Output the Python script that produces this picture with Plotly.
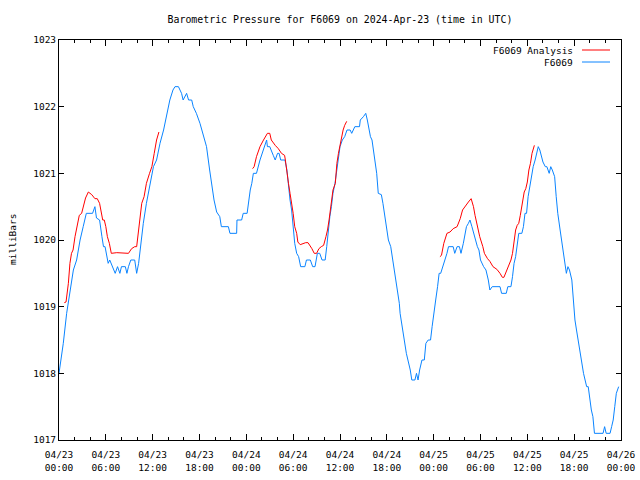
import plotly.graph_objects as go
import pandas as pd

START = "2024-04-23 00:00"

# Observed station pressure (hours since 2024-04-23 00:00 UTC, mb)
obs_hours = [0.0,0.55,0.98,1.4,1.84,2.26,2.7,3.1,3.5,4.3,4.6,4.8,5.2,5.5,5.7,5.9,6.3,6.5,6.96,7.2,7.5,7.8,8.0,8.5,8.7,8.9,9.2,9.7,9.95,10.2,10.4,10.8,11.2,11.66,12.1,12.5,12.94,13.4,13.8,14.2,14.6,14.86,15.3,15.7,15.9,16.1,16.35,16.6,17.0,17.2,17.6,18.06,18.5,18.9,19.3,19.56,19.86,20.2,20.6,20.8,21.7,21.9,22.76,22.8,23.4,23.6,24.1,24.5,24.7,24.9,25.3,25.75,26.2,26.6,26.7,27.0,27.45,27.7,28.0,28.2,28.4,28.95,29.2,29.4,29.6,29.8,30.0,30.2,30.45,30.7,30.96,31.5,31.7,32.2,32.5,32.8,33.1,33.4,33.7,34.1,34.3,34.5,34.7,34.9,35.1,35.36,35.6,35.8,36.0,36.3,36.6,36.9,37.3,37.5,37.7,37.9,38.5,38.6,39.0,39.3,39.5,39.7,39.9,40.1,40.3,40.5,40.7,40.9,41.3,41.5,41.76,42.0,42.2,42.5,42.7,42.9,43.1,43.3,43.6,43.7,43.9,44.1,44.3,44.5,44.7,45.0,45.2,45.6,45.8,46.0,46.2,46.5,46.8,47.0,47.3,47.6,47.8,48.0,48.26,48.5,48.7,48.9,49.2,49.45,49.7,49.9,50.5,50.7,51.0,51.3,51.5,51.8,52.0,52.2,52.45,52.65,52.9,53.1,53.3,53.6,53.8,54.0,54.4,54.7,55.0,55.2,55.5,56.5,56.7,57.3,57.5,57.9,58.1,58.3,58.5,58.7,58.9,59.3,59.5,59.7,59.9,60.1,60.3,60.5,60.75,61.0,61.2,61.4,61.6,61.8,62.0,62.3,62.5,62.8,63.0,63.2,63.5,63.7,63.9,64.2,64.4,64.6,64.8,65.0,65.2,65.4,65.7,65.9,66.1,66.3,66.5,66.7,67.0,67.2,67.4,67.6,67.8,68.0,68.2,68.4,68.6,69.7,69.9,70.1,70.6,70.8,71.0,71.2,71.4,71.7]
obs_mb = [1018.0,1018.45,1018.9,1019.25,1019.55,1019.7,1020.0,1020.2,1020.4,1020.4,1020.5,1020.33,1020.3,1020.05,1019.9,1019.9,1019.65,1019.7,1019.55,1019.5,1019.6,1019.5,1019.6,1019.6,1019.5,1019.6,1019.7,1019.7,1019.5,1019.65,1019.85,1020.25,1020.55,1020.85,1021.1,1021.2,1021.45,1021.65,1021.9,1022.1,1022.25,1022.3,1022.3,1022.2,1022.1,1022.15,1022.2,1022.1,1022.1,1022.0,1021.9,1021.75,1021.55,1021.4,1021.05,1020.8,1020.6,1020.42,1020.35,1020.2,1020.2,1020.1,1020.1,1020.3,1020.3,1020.4,1020.4,1020.75,1020.85,1021.0,1021.0,1021.2,1021.35,1021.5,1021.4,1021.4,1021.27,1021.2,1021.3,1021.3,1021.2,1021.2,1021.05,1020.8,1020.6,1020.45,1020.2,1019.95,1019.8,1019.75,1019.6,1019.6,1019.7,1019.7,1019.6,1019.6,1019.8,1019.8,1019.7,1019.7,1019.9,1020.15,1020.35,1020.5,1020.7,1020.85,1021.05,1021.25,1021.4,1021.5,1021.55,1021.65,1021.65,1021.6,1021.65,1021.7,1021.7,1021.8,1021.85,1021.9,1021.8,1021.65,1021.55,1021.5,1021.35,1021.15,1021.0,1020.7,1020.68,1020.55,1020.35,1020.15,1020.0,1019.9,1019.75,1019.6,1019.45,1019.25,1019.05,1018.9,1018.75,1018.6,1018.4,1018.3,1018.2,1018.05,1017.9,1017.9,1018.0,1017.9,1018.05,1018.2,1018.2,1018.45,1018.5,1018.5,1018.7,1018.9,1019.1,1019.3,1019.5,1019.5,1019.6,1019.7,1019.8,1019.9,1019.9,1019.8,1019.9,1019.9,1019.8,1019.95,1020.1,1020.2,1020.25,1020.3,1020.2,1020.1,1020.0,1019.9,1019.85,1019.7,1019.6,1019.55,1019.4,1019.25,1019.3,1019.3,1019.2,1019.2,1019.3,1019.3,1019.45,1019.65,1019.75,1019.95,1020.1,1020.1,1020.2,1020.4,1020.4,1020.65,1020.8,1020.95,1021.1,1021.2,1021.3,1021.4,1021.35,1021.25,1021.17,1021.1,1021.1,1021.0,1021.1,1021.05,1020.95,1020.65,1020.4,1020.15,1020.0,1019.85,1019.7,1019.5,1019.6,1019.55,1019.4,1019.05,1018.8,1018.65,1018.5,1018.35,1018.15,1018.0,1017.9,1017.8,1017.8,1017.6,1017.45,1017.35,1017.1,1017.1,1017.2,1017.1,1017.1,1017.2,1017.3,1017.5,1017.7,1017.8]

# Analysis pressure (None separates the three analysis windows)
ana_hours = [0.68,0.9,1.2,1.4,1.6,1.8,2.05,2.3,2.6,2.9,3.1,3.4,3.76,4.2,4.6,4.9,5.2,5.4,5.6,5.8,6.0,6.2,6.45,6.7,7.4,8.9,9.3,9.7,9.95,10.2,10.4,10.6,10.9,11.2,11.6,11.9,12.2,12.5,12.8,
             None,
             24.8,25.0,25.3,25.75,26.2,26.7,27.0,27.2,27.7,28.1,28.5,28.9,29.0,29.2,29.4,29.6,29.8,30.0,30.2,30.45,30.6,30.9,31.6,31.9,32.4,32.7,33.0,33.3,33.6,33.9,34.2,34.4,34.6,34.85,35.1,35.4,35.6,35.8,36.1,36.4,36.6,36.86,
             None,
             48.8,49.0,49.3,49.7,50.1,50.5,51.0,51.4,51.7,52.1,52.45,52.8,53.1,53.3,53.6,53.9,54.3,54.5,54.9,55.2,55.6,56.1,56.5,56.8,57.0,57.3,57.6,57.9,58.1,58.3,58.5,58.7,58.9,59.1,59.4,59.6,59.8,60.0,60.2,60.4,60.6,60.9]
ana_mb = [1019.06,1019.07,1019.35,1019.65,1019.8,1019.85,1020.05,1020.2,1020.37,1020.4,1020.5,1020.63,1020.72,1020.68,1020.62,1020.62,1020.55,1020.4,1020.3,1020.3,1020.2,1020.05,1019.95,1019.8,1019.81,1019.8,1019.87,1019.9,1019.9,1020.15,1020.4,1020.55,1020.65,1020.85,1021.0,1021.1,1021.3,1021.5,1021.62,
          None,
          1021.07,1021.1,1021.25,1021.4,1021.5,1021.6,1021.6,1021.5,1021.42,1021.37,1021.3,1021.27,1021.2,1021.0,1020.85,1020.7,1020.57,1020.4,1020.2,1020.1,1019.97,1019.93,1019.96,1019.96,1019.87,1019.8,1019.8,1019.87,1019.9,1019.92,1020.05,1020.15,1020.3,1020.5,1020.75,1020.85,1021.15,1021.3,1021.5,1021.65,1021.72,1021.78,
          None,
          1019.75,1019.77,1019.95,1020.1,1020.12,1020.17,1020.2,1020.32,1020.45,1020.52,1020.57,1020.62,1020.5,1020.37,1020.2,1020.05,1019.9,1019.8,1019.72,1019.68,1019.6,1019.56,1019.5,1019.44,1019.44,1019.52,1019.62,1019.7,1019.8,1020.0,1020.15,1020.22,1020.25,1020.37,1020.55,1020.72,1020.77,1020.87,1021.05,1021.15,1021.3,1021.42]

tick_hours = [0, 6, 12, 18, 24, 30, 36, 42, 48, 54, 60, 66, 72]
tick_text = ["04/23<br>00:00", "04/23<br>06:00", "04/23<br>12:00", "04/23<br>18:00",
             "04/24<br>00:00", "04/24<br>06:00", "04/24<br>12:00", "04/24<br>18:00",
             "04/25<br>00:00", "04/25<br>06:00", "04/25<br>12:00", "04/25<br>18:00",
             "04/26<br>00:00"]
y_ticks = [1017, 1018, 1019, 1020, 1021, 1022, 1023]

t0 = pd.Timestamp(START)
def to_time(hs):
    return [None if h is None else t0 + pd.Timedelta(hours=h) for h in hs]

FONT = "DejaVu Sans Mono"
RED = "#ff0000"
BLUE = "#0a84ff"

fig = go.Figure()
fig.add_trace(go.Scatter(x=to_time(obs_hours), y=obs_mb, mode="lines", name="F6069",
                         line=dict(color=BLUE, width=1), connectgaps=False))
fig.add_trace(go.Scatter(x=to_time(ana_hours), y=ana_mb, mode="lines", name="F6069 Analysis",
                         line=dict(color=RED, width=1), connectgaps=False))

fig.update_layout(
    width=640, height=480,
    margin=dict(l=59, r=19, t=40, b=40, autoexpand=False),
    paper_bgcolor="white", plot_bgcolor="white",
    showlegend=False,
    font=dict(family=FONT, size=9.5, color="black"),
    title=dict(text="Barometric Pressure for F6069 on 2024-Apr-23 (time in UTC)",
               x=0.5, xref="paper", xanchor="center",
               y=1 - 20 / 480, yref="container", yanchor="middle",
               font=dict(family=FONT, size=9.9, color="black")),
)
fig.update_xaxes(
    range=[t0, t0 + pd.Timedelta(hours=72)],
    tickvals=to_time(tick_hours), ticktext=tick_text,
    ticks="inside", ticklen=6, tickcolor="black", tickwidth=1,
    ticklabelstandoff=6,
    minor=dict(dtick=2 * 3600 * 1000, ticks="inside", ticklen=3, tickcolor="black", showgrid=False),
    showline=True, linecolor="black", linewidth=1, mirror="ticks",
    showgrid=False, zeroline=False,
    tickfont=dict(family=FONT, size=9.5, color="black"),
)
fig.update_yaxes(
    range=[1017, 1023], tickvals=y_ticks, ticktext=[str(v) for v in y_ticks],
    ticks="inside", ticklen=5, tickcolor="black", tickwidth=1,
    showline=True, linecolor="black", linewidth=1, mirror="ticks",
    showgrid=False, zeroline=False,
    tickfont=dict(family=FONT, size=9.5, color="black"),
)

# y-axis title
fig.add_annotation(text="milliBars", xref="paper", yref="paper",
                   x=(12 - 59) / 562, y=0.5, textangle=-90, showarrow=False,
                   xanchor="center", yanchor="middle",
                   font=dict(family=FONT, size=9.5, color="black"))

# gnuplot-style legend (text on the left, line sample on the right)
legend_items = [("F6069 Analysis", RED, 50), ("F6069", BLUE, 62)]
for label, color, ypx in legend_items:
    yp = (440 - ypx) / 400
    fig.add_annotation(text=label, xref="paper", yref="paper",
                       x=(575 - 59) / 562, y=yp, xanchor="right", yanchor="middle",
                       showarrow=False, font=dict(family=FONT, size=9.5, color="black"))
    fig.add_shape(type="line", xref="paper", yref="paper",
                  x0=(582 - 59) / 562, x1=(610 - 59) / 562, y0=yp, y1=yp,
                  line=dict(color=color, width=1))

fig.write_html("out.html", config={"displayModeBar": False},
               post_script="document.body.style.margin='0';")
